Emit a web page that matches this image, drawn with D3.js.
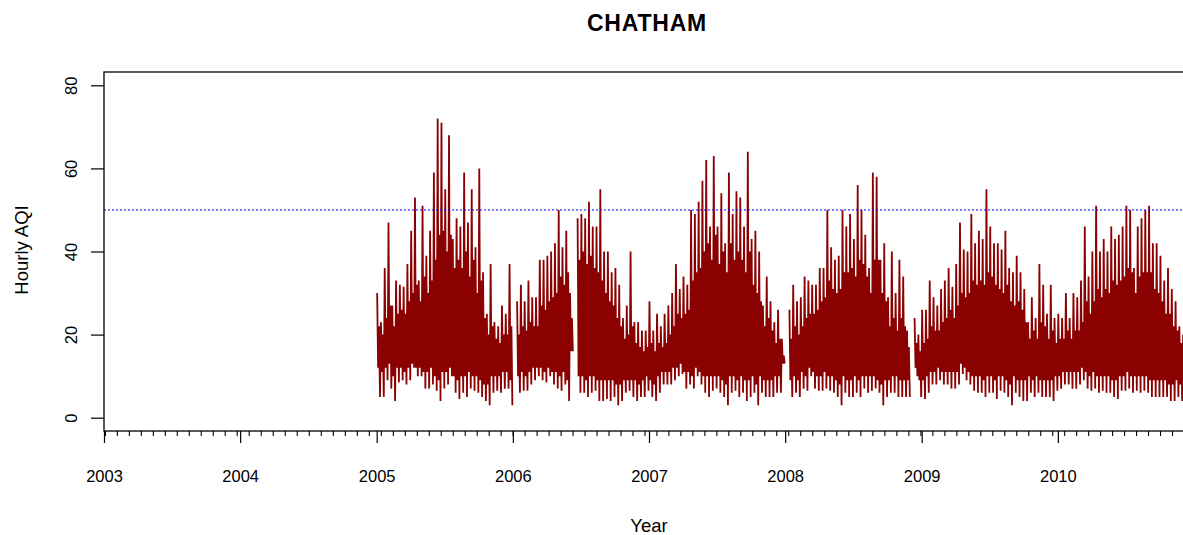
<!DOCTYPE html>
<html><head><meta charset="utf-8">
<script src="https://cdn.jsdelivr.net/npm/d3@7"></script>
<style>body{margin:0;background:#fff}svg{display:block}</style>
</head><body>
<svg id="c" width="1183" height="535"></svg>
<script>
// ---------------- data ----------------
const chartTitle = "CHATHAM";
const xTitle = "Year";
const yTitle = "Hourly AQI";
const yearTicks = [2003, 2004, 2005, 2006, 2007, 2008, 2009, 2010];
const yTicks = [0, 20, 40, 60, 80];
const refLevel = 50;
const seriesStartYear = 2005;      // first observation (Jan 1 2005)
const binsPerYear = 36;            // values summarised in ~10-day bins
const minorTickStepYears = 0.088;  // spacing of the small unlabeled x ticks
// per bin: highest hourly AQI; null = no data
const hiVals = [30,23,36,47,27,33,32,31.5,37,45,53,33,51,39,45,59,72,71,55,68,43,48,46,59,47,55,41,60,35,25,37,23,22,27,25,37,
null,28,32,28,33,29,29,38,38,39,40,42,50,41,45,30,null,48,49,48,52,46,46,55,40,40,35,36,32,24,27,40,23,23,21,21,
28,21,25,22,25,27,30,37,31,34,32,50,49,52,57,62,46,63,46,54,42,59,49,54.5,53,46,64,43,45,40,27,34,28,23,26,19,
null,26,32,28,29,34,33,32,32,36,36,50,41,38,39,50,46,49,43,56,50,44,36,59,58,38,42,29,40,30,38,34,21,null,24,20,
26,26,33,29,27,31,33,36,31.5,37,47,40.5,40,49,42,45,43,55,46,42,42,40.5,45,36,35,39,35,31,23,29,24,37,32,25,32,24,
25,24,30,24,30,29,33,46,34,40,51,40,43,40,46,43,44,46,51,50,36,46,48,50,51,42,42,39,33,36,31,28,22,20];
// per bin: top of the dense band of hourly values
const coreHiVals = [22,20,24,27,22,25,26,25,28,30,32,28,34,30,33,38,44,45,40,44,36,38,36,40,34,38,30,33,24,20,22,19,18,20,20,22,
null,20,22,21,23,22,22,27,26,28,29,30,34,32,35,24,null,38,40,37,39,36,35,33,30,28,27,24,22,19,20,22,18,17,16,17,
18,16,18,17,18,20,22,25,24,25,26,33,35,36,40,42,38,44,37,40,35,42,38,40,38,35,40,32,30,28,22,24,21,18,19,15,
null,19,22,20,22,24,25,25,26,28,29,33,31,30,31,35,35,36,34,38,37,34,30,38,38,30,28,22,24,21,24,22,17,null,18,16,
18,19,22,21,21,23,24,26,24,27,30,29,30,33,32,33,32,35,34,32,31,30,32,28,27,28,26,23,19,21,19,23,22,19,21,18,
19,19,21,19,21,21,23,28,25,28,31,29,31,30,33,32,33,34,36,35,30,34,35,35,35,31,30,28,25,25,22,21,18,17];
// per bin: bottom of the dense band of hourly values
const coreLoVals = [12,11,12,13,10,12,12,11,12,13,12,12,11,11,12,10,9,11,11,12,10,9,10,10,11,10,10,9,8,8,10,10,10,11,11,9,
null,10,11,10,11,12,12,12,11,12,11,11,10,11,9,16,null,10,10,9,10,10,9,9,9,9,9,8,8,9,9,9,9,8,9,10,
9,8,10,11,11,11,12,12,13,11,11,10,12,11,10,10,10,10,10,9,8,10,10,9,10,9,9,10,8,10,9,9,9,10,10,13,
null,9,10,9,11,10,12,11,10,10,11,10,10,9,8,10,9,9,10,9,10,10,10,10,9,8,9,9,10,10,9,9,9,null,12,9,
9,10,11,11,12,11,11,11,11,11,13,12,11,10,10,10,9,10,10,9,10,10,9,8,10,9,9,9,10,9,10,9,9,9,9,10,
10,11,11,11,11,11,12,11,10,11,10,10,10,10,9,9,10,10,11,10,10,10,10,10,9,9,9,9,9,8,8,9,8,8];
// per bin: lowest hourly AQI
const loVals = [5,5,9,7,4,8.5,9,8,9,12,10,10,7,7,8,6.5,4,7,8,10,6,4.5,6,5,7,6.5,6,5,4,3,6,6.5,6,7,7,3,
null,6,6.5,6.5,8,9,10,9,8.5,10,8,7,6.5,8,4,16,null,6,6,5,6,6.5,4,4,4.5,4,5,3,4,6,6.5,5,4,5,5,6.5,
5,4,6,8,8,8,9,10,10.5,7,8,7,10,8,6,5,6.5,7,6,5,3,6,6.5,5,6,4,5,6,3,6,5,5,5,6,6,13,
null,5,6,5,7,6.5,10,7,6.5,6.5,7,6.5,6,5,3,6,5,5,6,5,7,6,6.5,7,6,3,5,6,6,5,5,5,5,null,10,5,
4.5,6,8,8,9,8,8,7,7,8,10.5,9,8,6.5,6,6,5,6,6,4.5,6.5,6,5,3,6,5,4,4,6,5,6,5,5,5,4,6.5,
7,8,8,7,7,8,9,7,6.5,7,6,6.5,6,6,5,4.5,6.5,6.5,7,6,6.5,6,6.5,6,5,5,5,5,5,4,4,5,4,4];

// ---------------- drawing ----------------
const svg = d3.select("#c");
const font = "'Liberation Sans', Arial, Helvetica, sans-serif";
const L = 104, R = 1194, T = 72, B = 431;
const red = "#8B0000";

const yearDate = y => {
  const yi = Math.floor(y), f = y - yi;
  const a = new Date(yi, 0, 1), b = new Date(yi + 1, 0, 1);
  return new Date(a.getTime() + f * (b - a));
};
const x = d3.scaleTime().domain([new Date(2003,0,1), new Date(2011,0,1)]).range([L, R]);
const y = d3.scaleLinear().domain([-3.2, 83.2]).range([B, T]);

// each ~10-day bin is traced as: peak -> band bottom -> band top -> minimum
const pts = [];
hiVals.forEach((h, i) => {
  const lo = loVals[i], cTop = coreHiVals[i], cBot = coreLoVals[i];
  const t0 = seriesStartYear + i / binsPerYear;
  const w = 1 / binsPerYear;
  if (h == null || lo == null) { pts.push(null); return; }
  pts.push({t: yearDate(t0 + 0.125 * w), v: h});
  pts.push({t: yearDate(t0 + 0.375 * w), v: cBot});
  pts.push({t: yearDate(t0 + 0.625 * w), v: cTop});
  pts.push({t: yearDate(t0 + 0.875 * w), v: lo});
});
const line = d3.line().defined(d => d != null).x(d => x(d.t)).y(d => y(d.v));

svg.append("clipPath").attr("id", "pc").append("rect")
  .attr("x", L).attr("y", T).attr("width", R - L).attr("height", B - T);

const gData = svg.append("g").attr("clip-path", "url(#pc)");
gData.append("path").datum(pts).attr("d", line).attr("fill", "none").attr("stroke", red)
  .attr("stroke-width", 1.8).attr("stroke-linejoin", "miter").attr("stroke-miterlimit", 2);

// reference line
svg.append("line").attr("x1", L).attr("x2", R).attr("y1", y(refLevel)).attr("y2", y(refLevel))
  .attr("stroke", "#0000FF").attr("stroke-width", 1).attr("stroke-dasharray", "2,2");

// box
svg.append("rect").attr("x", L).attr("y", T).attr("width", R - L).attr("height", B - T)
  .attr("fill", "none").attr("stroke", "#000").attr("stroke-width", 1.3);

// x axis: major ticks
const xMajor = d3.axisBottom(x).tickValues(yearTicks.map(v => new Date(v,0,1)))
  .tickSize(12).tickSizeOuter(0).tickFormat(d => d.getFullYear());
const gx = svg.append("g").attr("transform", `translate(0,${B})`).call(xMajor);
gx.select(".domain").remove();
gx.selectAll(".tick line").attr("stroke", "#000").attr("stroke-width", 1.2);
gx.selectAll(".tick text").attr("y", 0).attr("dy", "50.5px")
  .style("font-family", font).style("font-size", "16.5px").attr("fill", "#000");

// x axis: minor ticks
const minorVals = d3.range(2003 + 0.0066, 2011, minorTickStepYears).map(yearDate);
const xMinor = d3.axisBottom(x).tickValues(minorVals).tickSize(5).tickSizeOuter(0).tickFormat("");
const gm = svg.append("g").attr("transform", `translate(0,${B})`).call(xMinor);
gm.select(".domain").remove();
gm.selectAll(".tick line").attr("stroke", "#000").attr("stroke-width", 1.1);

// y axis
const yAx = d3.axisLeft(y).tickValues(yTicks).tickSize(13).tickSizeOuter(0);
const gy = svg.append("g").attr("transform", `translate(${L},0)`).call(yAx);
gy.select(".domain").remove();
gy.selectAll(".tick line").attr("stroke", "#000").attr("stroke-width", 1.2);
gy.selectAll(".tick text")
  .attr("x", null).attr("dy", null)
  .attr("transform", "translate(-27,0) rotate(-90)")
  .attr("text-anchor", "middle")
  .style("font-family", font).style("font-size", "16.5px").attr("fill", "#000");

// titles
svg.append("text").attr("x", 647).attr("y", 30.5).attr("text-anchor", "middle")
  .style("font-family", font).style("font-size", "23px").style("font-weight", "bold")
  .style("letter-spacing", "0.8px").text(chartTitle);
svg.append("text").attr("x", 649).attr("y", 531.5).attr("text-anchor", "middle")
  .style("font-family", font).style("font-size", "18.5px").text(xTitle);
svg.append("text").attr("transform", "translate(27.5,250) rotate(-90)").attr("text-anchor", "middle")
  .style("font-family", font).style("font-size", "18.5px").text(yTitle);
</script>
</body></html>
